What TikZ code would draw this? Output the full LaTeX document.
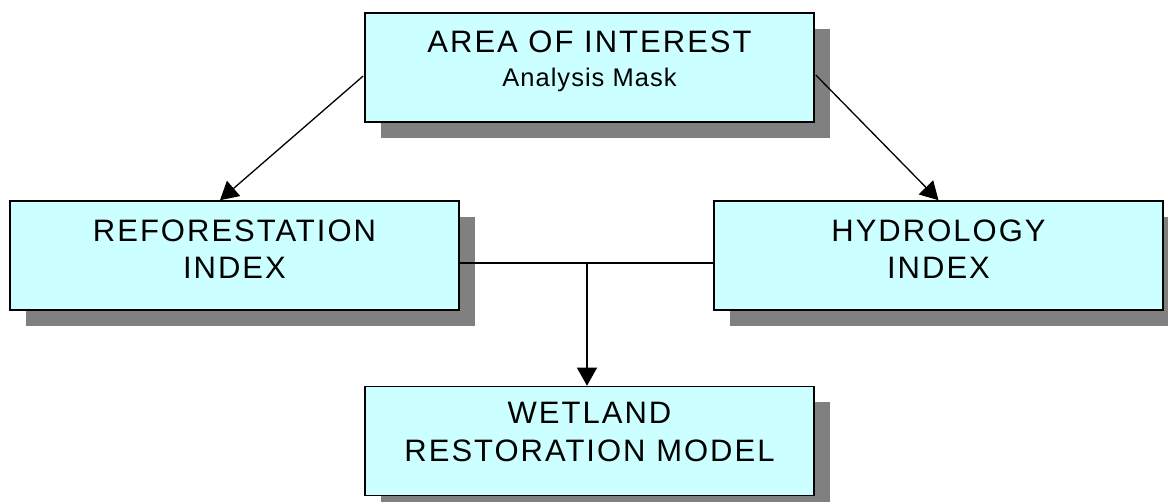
\documentclass[tikz,border=0pt]{standalone}
\usepackage{fontspec}
\setmainfont{Liberation Sans}
\newfontfamily\boxfont[LetterSpace=6.5]{Liberation Sans}
\newfontfamily\subfont[LetterSpace=4]{Liberation Sans}
\usetikzlibrary{arrows.meta,calc,shadows}
\begin{document}
\begin{tikzpicture}[x=1pt,y=-1pt,
  box/.style={draw=black,line width=1.6pt,fill=boxcyan,minimum width=449pt,minimum height=109pt,inner sep=0pt,
    drop shadow={shadow xshift=16pt,shadow yshift=-16pt,fill=shadowgray,opacity=1}},
  label/.style={anchor=north,inner sep=0pt,align=center,text=black,font=\boxfont\fontsize{31}{37}\selectfont},
  conn/.style={draw=black,line width=1.3pt},
  arr/.style={conn,-{Triangle[length=18pt,width=20pt]}}]
\definecolor{boxcyan}{HTML}{CCFFFF}
\definecolor{shadowgray}{HTML}{808080}
\useasboundingbox (0,0) rectangle (1168,502);
\node[box] (top) at (589.5,67.5) {};
\node[box] (ref) at (234.5,255.5) {};
\node[box] (hyd) at (938.5,255.5) {};
\node[box] (wet) at (589.5,441) {};
\node[label,font=\boxfont\fontsize{31}{34}\selectfont] (toptext) at ($(top.north)+(0,18)$) {AREA OF INTEREST\\{\subfont\fontsize{25.5}{34}\selectfont Analysis Mask}};
\node[label] (reftext) at ($(ref.north)+(0,19)$) {REFORESTATION\\INDEX};
\node[label] (hydtext) at ($(hyd.north)+(0,19)$) {HYDROLOGY\\INDEX};
\node[label,font=\boxfont\fontsize{31}{38}\selectfont] (wettext) at ($(wet.north)+(0,16)$) {WETLAND\\RESTORATION MODEL};
\draw[arr] ($(top.west)+(-1,8.5)$) -- ($(ref.north)+(-14.5,0)$);
\draw[arr] ($(top.east)+(1,7.5)$) -- (hyd.north);
\coordinate (j) at (587,263);
\draw[conn] ($(ref.east)+(0,7.5)$) -- ($(hyd.west)+(0,7.5)$);
\draw[arr] (j) -- ($(wet.north)+(-2.5,0)$);
\end{tikzpicture}
\end{document}
